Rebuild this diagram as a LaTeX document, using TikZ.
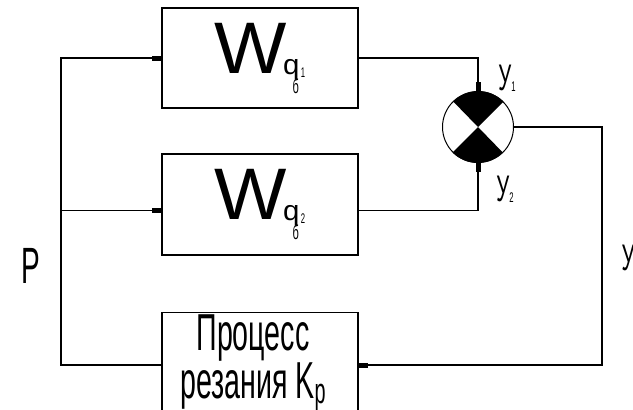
\documentclass[tikz,border=0pt]{standalone}
\usepackage{fontspec}
\setmainfont{Liberation Sans}[FakeStretch=0.55]
\newfontfamily\wfont{Liberation Sans}[FakeStretch=1.05]
\usetikzlibrary{arrows.meta, positioning, calc}

\newcommand{\wlab}[1]{{\wfont\fontsize{73}{73}\selectfont W}\kern-4pt\raisebox{-1pt}{\wfont\fontsize{28}{28}\selectfont q}\kern-7pt\raisebox{-20pt}{\fontsize{20}{20}\selectfont б}\kern2pt\raisebox{-4pt}{\fontsize{14}{14}\selectfont #1}}

\begin{document}
\begin{tikzpicture}[x=1pt, y=-1pt,
  block/.style={draw, line width=1.3pt, minimum width=196pt, inner sep=0pt},
  wire/.style={line width=1.3pt},
  link/.style={line width=1.3pt, -{Rectangle[length=9pt,width=5pt]}},
  lbl/.style={inner sep=0pt}]
  \useasboundingbox (0,0) rectangle (633,410);
  % blocks
  \node[block, minimum height=100pt] (w1) at (260,58) {\wlab{1}};
  \node[block, minimum height=101pt] (w2) at (260,204.5) {\wlab{2}};
  \node[block, anchor=north, minimum height=130pt] (proc) at (260,312) {};
  \node[lbl, anchor=north, align=center, font=\fontsize{52}{38}\selectfont] (proctxt) at ([xshift=-7pt,yshift=-3pt]proc.north) {Процесс\\резания K\raisebox{-5pt}{\fontsize{36}{36}\selectfont р}};
  % summing junction
  \node[draw, circle, line width=1pt, minimum size=71pt, inner sep=0pt] (sum) at (478,127) {};
  \fill (sum.center) -- (sum.45) arc[start angle=45, end angle=135, radius=35.5pt] -- cycle;
  \fill (sum.center) -- (sum.225) arc[start angle=225, end angle=315, radius=35.5pt] -- cycle;
  % turning points
  \coordinate (w2in) at ([yshift=-6pt]w2.west);
  \coordinate (w2out) at ([yshift=-6pt]w2.east);
  \coordinate (lturn) at (61,365);
  \coordinate (rturn) at (602,365);
  % connectors
  \draw[link] (w1.east) -| (sum.north);
  \draw[link] (w2out) -| (sum.south);
  \draw[link] (sum.east) -| (rturn) -- (proc.east |- rturn);
  \draw[link] (proc.west |- lturn) -- (lturn) |- (w1.west);
  \draw[link] (lturn |- w2in) -- (w2in);
  % labels
  \node[lbl, font=\fontsize{37}{37}\selectfont] (y1) at (507,78) {У\raisebox{-1pt}{\fontsize{14}{14}\selectfont 1}};
  \node[lbl, font=\fontsize{37}{37}\selectfont] (y2) at (505,189) {У\raisebox{-1pt}{\fontsize{14}{14}\selectfont 2}};
  \node[lbl, font=\fontsize{37}{37}\selectfont] (yout) at (628,258) {У};
  \node[lbl, font=\fontsize{51}{51}\selectfont] (force) at (31,266) {Р};
\end{tikzpicture}
\end{document}
